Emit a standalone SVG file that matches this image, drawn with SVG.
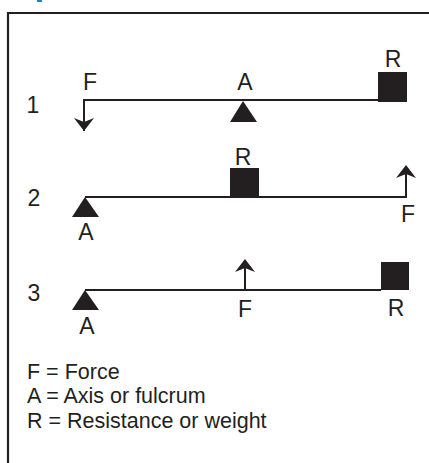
<svg xmlns="http://www.w3.org/2000/svg" width="429" height="463" viewBox="0 0 429 463">
<defs>
<style>
.t{font-family:"Liberation Sans",Arial,sans-serif;font-size:23px;fill:#231f20}
.lg{font-family:"Liberation Sans",Arial,sans-serif;font-size:21.5px;fill:#231f20}
.beam{stroke:#231f20;stroke-width:2;fill:none}
.solid{fill:#231f20}
</style>
<path id="head" d="M0,0 L10,13 L0,9 L-10,13 Z" fill="#231f20"/>
</defs>
<rect width="429" height="463" fill="#fff"/>
<rect x="37" y="0" width="5" height="2" fill="#2a7fc0"/>
<path d="M8,464 V13 H430" stroke="#231f20" stroke-width="2.2" fill="none"/>

<g id="lever1">
<text class="t" x="33" y="113" text-anchor="middle">1</text>
<text class="t" x="90" y="90" text-anchor="middle">F</text>
<text class="t" x="245" y="90" text-anchor="middle">A</text>
<text class="t" x="393" y="67" text-anchor="middle">R</text>
<polygon class="solid" points="243,101 257,122 230,122"/>
<rect class="solid" x="378" y="72" width="29" height="30"/>
</g>

<g id="lever2">
<text class="t" x="34" y="206" text-anchor="middle">2</text>
<text class="t" x="243" y="165" text-anchor="middle">R</text>
<text class="t" x="408" y="222" text-anchor="middle">F</text>
<text class="t" x="86" y="240" text-anchor="middle">A</text>
<polygon class="solid" points="85,197 99,217 72,217"/>
<rect class="solid" x="230" y="168" width="29" height="29"/>
</g>

<g id="lever3">
<text class="t" x="34" y="301" text-anchor="middle">3</text>
<text class="t" x="245" y="317" text-anchor="middle">F</text>
<text class="t" x="396" y="316" text-anchor="middle">R</text>
<text class="t" x="87" y="334" text-anchor="middle">A</text>
<polygon class="solid" points="85,290 99,310 72,310"/>
<rect class="solid" x="381" y="262" width="28" height="28"/>
</g>

<g id="connectors">
<path class="beam" d="M84,131 V100 H380"/>
<use href="#head" transform="translate(84,131) rotate(180)"/>
<path class="beam" d="M85,197 H406 V167"/>
<use href="#head" transform="translate(406,165)"/>
<path class="beam" d="M85,290 H381"/>
<path class="beam" d="M245,290 V261"/>
<use href="#head" transform="translate(245,259)"/>
</g>

<g id="legend">
<text class="lg" x="27" y="379">F = Force</text>
<text class="lg" x="27" y="403">A = Axis or fulcrum</text>
<text class="lg" x="27" y="428">R = Resistance or weight</text>
</g>
</svg>
